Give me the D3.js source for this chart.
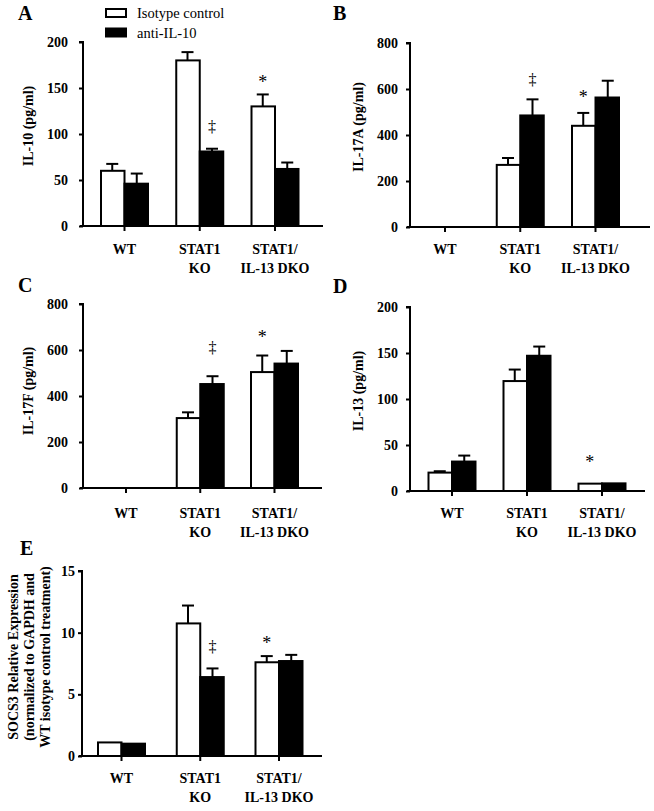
<!DOCTYPE html>
<html><head><meta charset="utf-8">
<script src="https://cdn.jsdelivr.net/npm/d3@7"></script>
<style>
html,body{margin:0;padding:0;background:#fff;}
svg{display:block;}
text{font-family:"Liberation Serif","Times New Roman",serif;fill:#000;}
</style></head>
<body>
<svg id="chart" width="654" height="811"></svg>
<script>
// ---- Data ----
const categories = ["WT", "STAT1 KO", "STAT1/IL-13 DKO"];
const catLine1 = ["WT", "STAT1", "STAT1/"];
const catLine2 = ["", "KO", "IL-13 DKO"];
const seriesNames = ["Isotype control", "anti-IL-10"];

// Panel A: IL-10 (pg/ml)
const il10Iso = [60, 180, 130];
const il10IsoSem = [7.5, 9, 13];
const il10Anti = [46, 81, 62];
const il10AntiSem = [11, 3, 7];
const il10Ticks = [0, 50, 100, 150, 200];
const il10Marks = [{cat: 1, s: 1, sym: "\u2021", v: 108}, {cat: 2, s: 0, sym: "*", v: 157}];

// Panel B: IL-17A (pg/ml)
const il17aIso = [0, 270, 440];
const il17aIsoSem = [0, 30, 56];
const il17aAnti = [0, 485, 563];
const il17aAntiSem = [0, 70, 73];
const il17aTicks = [0, 200, 400, 600, 800];
const il17aMarks = [{cat: 1, s: 1, sym: "\u2021", v: 640}, {cat: 2, s: 0, sym: "*", v: 565}];

// Panel C: IL-17F (pg/ml)
const il17fIso = [0, 304, 504];
const il17fIsoSem = [0, 25, 72];
const il17fAnti = [0, 452, 541];
const il17fAntiSem = [0, 34, 55];
const il17fTicks = [0, 200, 400, 600, 800];
const il17fMarks = [{cat: 1, s: 1, sym: "\u2021", v: 612}, {cat: 2, s: 0, sym: "*", v: 655}];

// Panel D: IL-13 (pg/ml)
const il13Iso = [20, 119.5, 8];
const il13IsoSem = [1.5, 12.5, 0];
const il13Anti = [32, 147, 8.3];
const il13AntiSem = [6.5, 10, 0];
const il13Ticks = [0, 50, 100, 150, 200];
const il13Marks = [{cat: 2, s: 0, sym: "*", v: 32}];

// Panel E: SOCS3 relative expression
const socs3Iso = [1.1, 10.75, 7.6];
const socs3IsoSem = [0, 1.45, 0.5];
const socs3Anti = [1.0, 6.4, 7.7];
const socs3AntiSem = [0, 0.7, 0.5];
const socs3Ticks = [0, 5, 10, 15];
const socs3Marks = [{cat: 1, s: 1, sym: "\u2021", v: 8.85}, {cat: 2, s: 0, sym: "*", v: 9.2}];

// ---- Layout ----
const panels = [
  {letter: "A", lx: 18, ly: 20, ax: 83, yTop: 42, y0: 226, xEnd: 323, cr: [124.5, 275], tickGap: 15,
   ylab: ["IL-10 (pg/ml)"], ylabX: [33], ylabY: 126, iso: il10Iso, isoSem: il10IsoSem, anti: il10Anti, antiSem: il10AntiSem, ticks: il10Ticks, marks: il10Marks, labY: 254},
  {letter: "B", lx: 333, ly: 20, ax: 410, yTop: 43, y0: 227, xEnd: 650, cr: [445, 595.5], tickGap: 12,
   ylab: ["IL-17A (pg/ml)"], ylabX: [363], ylabY: 127, iso: il17aIso, isoSem: il17aIsoSem, anti: il17aAnti, antiSem: il17aAntiSem, ticks: il17aTicks, marks: il17aMarks, labY: 254},
  {letter: "C", lx: 18, ly: 292, ax: 83, yTop: 304, y0: 488, xEnd: 322, cr: [126, 274.5], tickGap: 15,
   ylab: ["IL-17F (pg/ml)"], ylabX: [33], ylabY: 391, iso: il17fIso, isoSem: il17fIsoSem, anti: il17fAnti, antiSem: il17fAntiSem, ticks: il17fTicks, marks: il17fMarks, labY: 518},
  {letter: "D", lx: 333, ly: 293, ax: 410, yTop: 307, y0: 491, xEnd: 645, cr: [452, 602], tickGap: 12,
   ylab: ["IL-13 (pg/ml)"], ylabX: [363], ylabY: 391, iso: il13Iso, isoSem: il13IsoSem, anti: il13Anti, antiSem: il13AntiSem, ticks: il13Ticks, marks: il13Marks, labY: 518},
  {letter: "E", lx: 20, ly: 555, ax: 82, yTop: 571, y0: 756, xEnd: 322, cr: [121.5, 279], tickGap: 7,
   ylab: ["SOCS3 Relative Expression", "(normalized to GAPDH and", "WT isotype control treatment)"], ylabX: [17.5, 34, 50], ylabY: 657,
   iso: socs3Iso, isoSem: socs3IsoSem, anti: socs3Anti, antiSem: socs3AntiSem, ticks: socs3Ticks, marks: socs3Marks, labY: 783}
];

const svg = d3.select("#chart");
const barW = 24.5;
const fills = ["#fff", "#000"];

panels.forEach(p => {
  const g = svg.append("g");
  const y = d3.scaleLinear().domain([0, d3.max(p.ticks)]).range([p.y0, p.yTop]);
  const x = d3.scalePoint().domain(categories).range(p.cr);

  const rows = [];
  categories.forEach((c, i) => {
    rows.push({c, s: 0, v: p.iso[i], e: p.isoSem[i]});
    rows.push({c, s: 1, v: p.anti[i], e: p.antiSem[i]});
  });
  const cx = d => x(d.c) + (d.s === 0 ? -barW / 2 : barW / 2);

  // error bars
  rows.filter(d => d.v > 0 && d.e > 0).forEach(d => {
    const xc = cx(d);
    g.append("line").attr("x1", xc).attr("x2", xc).attr("y1", y(d.v)).attr("y2", y(d.v + d.e))
      .attr("stroke", "#000").attr("stroke-width", 2);
    g.append("line").attr("x1", xc - 6).attr("x2", xc + 6).attr("y1", y(d.v + d.e)).attr("y2", y(d.v + d.e))
      .attr("stroke", "#000").attr("stroke-width", 2);
  });

  g.selectAll("rect.bar").data(rows.filter(d => d.v > 0)).join("rect")
    .attr("class", "bar")
    .attr("x", d => x(d.c) + (d.s === 0 ? -barW + 1 : 0))
    .attr("width", barW - 1)
    .attr("y", d => y(d.v))
    .attr("height", d => p.y0 - y(d.v))
    .attr("fill", d => fills[d.s])
    .attr("stroke", "#000").attr("stroke-width", 2);

  // y axis
  const yAxis = d3.axisLeft(y).tickValues(p.ticks).tickSize(4).tickPadding(p.tickGap - 4).tickFormat(d3.format("d"));
  const ya = g.append("g").attr("transform", `translate(${p.ax},0)`).call(yAxis);
  ya.select(".domain").attr("d", `M-4,${p.yTop}H0V${p.y0}`).attr("stroke-width", 2);
  ya.selectAll(".tick line").attr("stroke-width", 2);
  ya.selectAll(".tick text").attr("font-family", "Liberation Serif").attr("font-weight", "bold").attr("font-size", 14).attr("fill", "#000");

  // x axis baseline
  g.append("line").attr("x1", p.ax - 3).attr("x2", p.xEnd).attr("y1", p.y0).attr("y2", p.y0)
    .attr("stroke", "#000").attr("stroke-width", 2);
  categories.forEach((c, i) => {
    g.append("line").attr("x1", x(c)).attr("x2", x(c)).attr("y1", p.y0).attr("y2", p.y0 + 5)
      .attr("stroke", "#000").attr("stroke-width", 2);
    g.append("text").attr("x", x(c)).attr("y", p.labY).attr("text-anchor", "middle")
      .attr("font-weight", "bold").attr("font-size", 14).text(catLine1[i]);
    if (catLine2[i]) g.append("text").attr("x", x(c)).attr("y", p.labY + 19).attr("text-anchor", "middle")
      .attr("font-weight", "bold").attr("font-size", 14).text(catLine2[i]);
  });

  // significance marks
  p.marks.forEach(m => {
    const d = {c: categories[m.cat], s: m.s};
    g.append("text").attr("x", cx(d)).attr("y", y(m.v)).attr("text-anchor", "middle")
      .attr("dominant-baseline", "central").attr("fill", "#000")
      .attr("font-size", m.sym === "*" ? 18 : 16).text(m.sym);
  });

  // y label
  p.ylab.forEach((t, i) => {
    g.append("text").attr("transform", `translate(${p.ylabX[i]},${p.ylabY}) rotate(-90)`)
      .attr("text-anchor", "middle").attr("font-weight", "bold").attr("font-size", 14).text(t);
  });

  // panel letter
  g.append("text").attr("x", p.lx).attr("y", p.ly).attr("font-weight", "bold").attr("font-size", 20).text(p.letter);
});

// legend
const leg = svg.append("g");
seriesNames.forEach((n, i) => {
  leg.append("rect").attr("x", 106).attr("y", 9 + i * 19.5).attr("width", 20).attr("height", 8)
    .attr("fill", fills[i]).attr("stroke", "#000").attr("stroke-width", 2);
  leg.append("text").attr("x", 137).attr("y", 18 + i * 20).attr("font-size", 14.5).text(n);
});
</script>
</body></html>
